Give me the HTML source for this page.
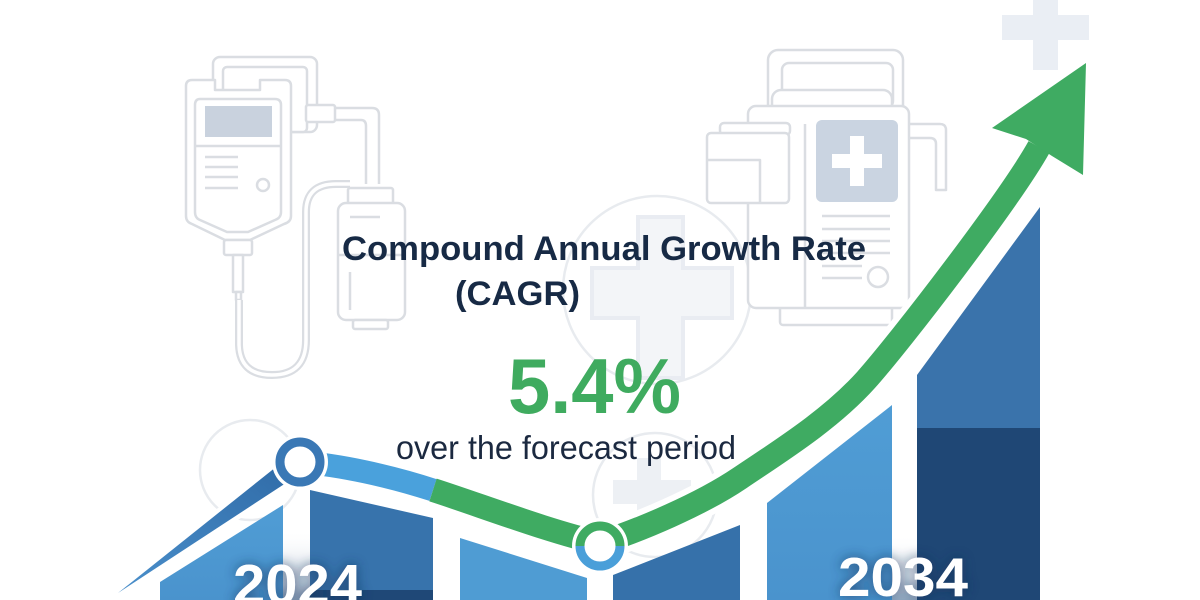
<!DOCTYPE html>
<html>
<head>
<meta charset="utf-8">
<style>
  html,body{margin:0;padding:0;background:#ffffff;}
  body{width:1200px;height:600px;overflow:hidden;}
  svg{display:block;}
  text{font-family:"Liberation Sans", Arial, sans-serif;}
</style>
</head>
<body>
<svg width="1200" height="600" viewBox="0 0 1200 600" xmlns="http://www.w3.org/2000/svg">
  <defs>
    <filter id="blur6" x="-30%" y="-60%" width="160%" height="220%">
      <feGaussianBlur stdDeviation="6"/>
    </filter>
    <linearGradient id="gapShade" x1="0" y1="0" x2="0" y2="1">
      <stop offset="0" stop-color="#ffffff" stop-opacity="0"/>
      <stop offset="1" stop-color="#2a5484" stop-opacity="0.5"/>
    </linearGradient>
    <linearGradient id="spikeGrad" x1="0" y1="1" x2="1" y2="0">
      <stop offset="0" stop-color="#4a8fcb"/>
      <stop offset="1" stop-color="#2f6aa6"/>
    </linearGradient>
    <linearGradient id="lightBar" x1="0" y1="0" x2="0" y2="1">
      <stop offset="0" stop-color="#509dd5"/>
      <stop offset="1" stop-color="#4a93cd"/>
    </linearGradient>
  </defs>

  <rect width="1200" height="600" fill="#ffffff"/>

  <!-- ===== faint background decorations ===== -->
  <g fill="none" stroke="#e8ebef" stroke-width="2.5">
    <circle cx="657" cy="290" r="94"/>
    <circle cx="655" cy="495" r="62"/>
    <circle cx="250" cy="470" r="50"/>
  </g>
  <path d="M638,217 h45 v51 h49 v50 h-49 v60 h-45 v-60 h-46 v-50 h46 z" fill="#f3f5f8" stroke="#e9ecf2" stroke-width="4"/>
  <path d="M637,458 h24 v22 h30 v24 h-30 v24 h-24 v-24 h-24 v-24 h24 z" fill="#edf0f4"/>
  <path d="M1033,0 h25 v15 h31 v25 h-31 v30 h-25 v-30 h-31 v-25 h31 z" fill="#eaeef4"/>

  <!-- IV bag -->
  <g fill="#ffffff" stroke="#dadde2" stroke-width="2.5" stroke-linejoin="round">
    <rect x="213" y="57" width="104" height="75" rx="7"/>
    <rect x="223" y="67" width="84" height="65" rx="4"/>
    <path d="M330,108 H372 Q379,108 379,115 V184" fill="none"/>
    <path d="M330,120 H361 Q366,120 366,126 V184" fill="none"/>
    <rect x="306" y="105" width="29" height="17" rx="2"/>
    <path d="M192,80 H215 V90 H260 V80 H285 Q291,80 291,86 V216 Q291,222 284,224 L250,240 H225 L192,224 Q186,222 186,216 V86 Q186,80 192,80 Z"/>
    <path d="M200,99 H275 Q281,99 281,105 V212 Q281,218 275,220 L248,232 H227 L200,220 Q195,218 195,212 V105 Q195,99 200,99 Z"/>
    <line x1="195" y1="146" x2="281" y2="146"/>
    <line x1="205" y1="157" x2="238" y2="157"/>
    <line x1="205" y1="167" x2="238" y2="167"/>
    <line x1="205" y1="177" x2="238" y2="177"/>
    <line x1="205" y1="188" x2="238" y2="188"/>
    <circle cx="263" cy="185" r="6"/>
    <rect x="224" y="240" width="28" height="15" rx="2"/>
    <rect x="233" y="255" width="10" height="37"/>
    <rect x="236" y="292" width="5" height="8"/>
  </g>
  <rect x="205" y="106" width="67" height="31" fill="#c9d2de"/>
  <path d="M239,300 V345 Q240,375 272,375 Q306,375 306,340 V212 Q306,184 336,184 H350" fill="none" stroke="#dadde2" stroke-width="8"/>
  <path d="M239,300 V345 Q240,375 272,375 Q306,375 306,340 V212 Q306,184 336,184 H350" fill="none" stroke="#ffffff" stroke-width="3.5"/>
  <g fill="#ffffff" stroke="#dadde2" stroke-width="2.5" stroke-linejoin="round">
    <rect x="348" y="188" width="45" height="16" rx="2"/>
    <rect x="338" y="203" width="67" height="117" rx="8"/>
    <rect x="353" y="320" width="35" height="9" rx="2"/>
    <line x1="338" y1="255" x2="405" y2="255"/>
    <line x1="350" y1="217" x2="380" y2="217"/>
    <line x1="350" y1="272" x2="350" y2="310"/>
  </g>

  <!-- Infusion pump -->
  <g fill="#ffffff" stroke="#dadde2" stroke-width="2.5" stroke-linejoin="round">
    <rect x="768" y="50" width="135" height="70" rx="10"/>
    <rect x="782" y="63" width="111" height="45" rx="7"/>
    <rect x="772" y="90" width="120" height="25" rx="9"/>
    <path d="M909,124 H940 Q946,124 946,130 V190 H936 V144 Q936,138 930,138 H909"/>
    <rect x="780" y="300" width="112" height="25" rx="3"/>
    <rect x="748" y="106" width="161" height="202" rx="8"/>
    <rect x="720" y="123" width="70" height="12" rx="4"/>
    <rect x="707" y="133" width="82" height="70" rx="4"/>
    <path d="M707,160 H760 V203" fill="none"/>
    <line x1="805" y1="124" x2="805" y2="308"/>
    <line x1="822" y1="216" x2="890" y2="216"/>
    <line x1="822" y1="229" x2="890" y2="229"/>
    <line x1="822" y1="241" x2="890" y2="241"/>
    <line x1="822" y1="253" x2="890" y2="253"/>
    <line x1="822" y1="266" x2="862" y2="266"/>
    <line x1="822" y1="278" x2="862" y2="278"/>
    <circle cx="878" cy="277" r="10"/>
  </g>
  <rect x="816" y="120" width="82" height="82" rx="6" fill="#cad4e1"/>
  <path d="M850,136 h14 v18 h18 v14 h-18 v18 h-14 v-18 h-18 v-14 h18 z" fill="#ffffff"/>

  <!-- ===== Bars ===== -->
  <polygon points="160,582 283,505 283,600 160,600" fill="url(#lightBar)"/>
  <polygon points="310,490 433,518 433,600 310,600" fill="#3773ac"/>
  <rect x="310" y="590" width="123" height="10" fill="#1f4877"/>
  <polygon points="460,538 587,578 587,600 460,600" fill="#4f9cd3"/>
  <polygon points="613,575 740,525 740,600 613,600" fill="#3671aa"/>
  <polygon points="767,503 892,405 892,600 767,600" fill="url(#lightBar)"/>
  <polygon points="917,375 1040,207 1040,600 917,600" fill="#3a73ab"/>
  <rect x="917" y="428" width="123" height="172" fill="#1f4775"/>

  <rect x="283" y="530" width="27" height="70" fill="url(#gapShade)"/>
  <rect x="892" y="535" width="25" height="65" fill="url(#gapShade)"/>

  <!-- ===== Growth line ===== -->
  <path d="M300,462 C340,465 390,476 433,490 C480,505 550,532 600,543 C640,530 700,505 740,478 C780,451 830,420 866,380 C900,342 1010,199 1039,147" fill="none" stroke="#ffffff" stroke-width="36" stroke-linejoin="round"/>
  <polygon points="118,593 277,466 300,458 289,482" fill="#ffffff" stroke="#ffffff" stroke-width="8" stroke-linejoin="round"/>
  <polygon points="118,593 276,467 300,460 289,481" fill="url(#spikeGrad)"/>
  <path d="M300,462 C340,465 390,476 433,490" fill="none" stroke="#4aa1dc" stroke-width="23"/>
  <path d="M433,490 C480,505 550,532 600,543 C640,530 700,505 740,478 C780,451 830,420 866,380 C900,342 1010,199 1039,147" fill="none" stroke="#3fab62" stroke-width="24" stroke-linejoin="round"/>
  <polygon points="1086,63 992,128 1026,139 1052,156 1083,175" fill="#3fab62"/>

  <!-- circles -->
  <circle cx="300" cy="462" r="28" fill="#ffffff"/>
  <circle cx="300" cy="462" r="20" fill="#ffffff" stroke="#3a78b5" stroke-width="9"/>
  <circle cx="600" cy="546" r="28" fill="#ffffff"/>
  <circle cx="600" cy="546" r="20" fill="#ffffff"/>
  <path d="M580,546 A20,20 0 0 1 620,546" fill="none" stroke="#3fab62" stroke-width="9"/>
  <path d="M620,546 A20,20 0 0 1 580,546" fill="none" stroke="#4a9fd9" stroke-width="9"/>

  <!-- ===== Text ===== -->
  <text x="342" y="260" font-size="34.5" font-weight="bold" fill="#172a45" textLength="524" lengthAdjust="spacingAndGlyphs">Compound Annual Growth Rate</text>
  <text x="455" y="305" font-size="34.5" font-weight="bold" fill="#172a45" textLength="125" lengthAdjust="spacingAndGlyphs">(CAGR)</text>
  <text x="508" y="413" font-size="78" font-weight="bold" fill="#3fab5f" textLength="173" lengthAdjust="spacingAndGlyphs">5.4%</text>
  <text x="396" y="459" font-size="33" fill="#1b2940" textLength="340" lengthAdjust="spacingAndGlyphs">over the forecast period</text>

  <text x="233" y="604" font-size="57" font-weight="bold" fill="#12305a" opacity="0.7" filter="url(#blur6)" textLength="129" lengthAdjust="spacingAndGlyphs">2024</text>
  <text x="233" y="604" font-size="57" font-weight="bold" fill="#ffffff" textLength="129" lengthAdjust="spacingAndGlyphs">2024</text>
  <text x="838" y="596" font-size="55" font-weight="bold" fill="#12305a" opacity="0.7" filter="url(#blur6)" textLength="130" lengthAdjust="spacingAndGlyphs">2034</text>
  <text x="838" y="596" font-size="55" font-weight="bold" fill="#ffffff" textLength="130" lengthAdjust="spacingAndGlyphs">2034</text>
</svg>
</body>
</html>
